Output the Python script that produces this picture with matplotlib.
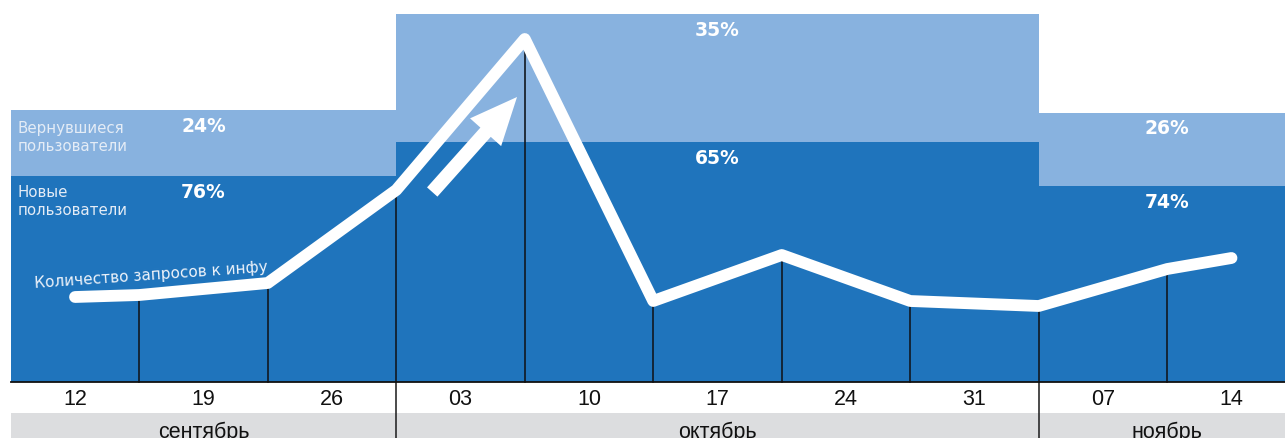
import matplotlib
matplotlib.use("Agg")
import matplotlib.pyplot as plt

# weeks on the x axis and months below them
weeks = ['12', '19', '26', '03', '10', '17', '24', '31', '07', '14']
months = ['сентябрь', 'октябрь', 'ноябрь']
month_start = [-0.5, 2.5, 7.5]
month_end = [2.5, 7.5, 9.5]

# users per month (arbitrary units) and share labels
new_users = [206, 240, 196]
returning_users = [66, 128, 73]
new_labels = ['76%', '65%', '74%']
returning_labels = ['24%', '35%', '26%']

# number of requests to the info page
query_pos = [0, 0.5, 1.5, 2.5, 3.5, 4.5, 5.5, 6.5, 7.5, 8.5, 9]
queries = [85, 87, 99, 192, 343, 81, 127, 81, 76, 113, 124]

DARK = '#1f74bc'
LIGHT = '#88b2df'
GRAY = '#dcdddf'

fig = plt.figure(figsize=(12.85, 4.39), dpi=100)
ax = fig.add_axes([0, 0, 1, 1])
ax.set_xlim(-75 / 128.5, 1210 / 128.5)
ax.set_ylim(-56, 383)
ax.axis('off')

# stacked monthly blocks
for i in range(len(months)):
    w = month_end[i] - month_start[i]
    ax.bar(month_start[i], new_users[i], width=w, align='edge', color=DARK, zorder=1)
    ax.bar(month_start[i], returning_users[i], width=w, bottom=new_users[i],
           align='edge', color=LIGHT, zorder=1)
    xc = (month_start[i] + month_end[i]) / 2
    if i == 0:
        xc = 1
    top = new_users[i] + returning_users[i]
    ax.text(xc, top - 15, returning_labels[i], ha='center', va='center',
            color='white', fontsize=13.5, fontweight='bold', family='DejaVu Sans', zorder=5)
    ax.text(xc, new_users[i] - 15, new_labels[i], ha='center', va='center',
            color='white', fontsize=13.5, fontweight='bold', family='DejaVu Sans', zorder=5)

# month band
ax.bar(month_start[0], -25, width=month_end[-1] - month_start[0], bottom=-31,
       align='edge', color=GRAY, zorder=1)
for i, m in enumerate(months):
    xc = (month_start[i] + month_end[i]) / 2
    ax.text(xc, -49, m, ha='center', va='center', fontsize=15.5,
            family='Liberation Sans', color='#111111', zorder=5)
for x in month_start[1:]:
    ax.plot([x, x], [-56, 0], color='#1a1a1a', lw=1.1, zorder=2)

# baseline and week labels
ax.plot([month_start[0], month_end[-1]], [0, 0], color='#111111', lw=1.3, zorder=3)
for i, w in enumerate(weeks):
    ax.text(i, -17, w, ha='center', va='center', fontsize=15.5,
            family='Liberation Sans', color='#111111', zorder=5)

# drop lines under the curve
for x, q in zip(query_pos[1:-1], queries[1:-1]):
    ax.plot([x, x], [0, q], color='#111820', lw=1.2, zorder=2)

ax.plot(query_pos, queries, color='white', lw=8.5, solid_capstyle='round',
        solid_joinstyle='round', zorder=4)

ax.annotate('', xy=(3.44, 285), xytext=(2.78, 190),
            arrowprops=dict(arrowstyle='simple,tail_width=1.0,head_width=3.0,head_length=3.4',
                            mutation_scale=10, color='white', shrinkA=0, shrinkB=0, lw=0),
            zorder=4)

# legend-like captions
ax.text(-0.444, 262, 'Вернувшиеся\nпользователи', ha='left', va='top', fontsize=10.8,
        color='#e4ecf6', family='DejaVu Sans', linespacing=1.25, zorder=5)
ax.text(-0.444, 198, 'Новые\nпользователи', ha='left', va='top', fontsize=10.8,
        color='#e4ecf6', family='DejaVu Sans', linespacing=1.25, zorder=5)
ax.text(-0.31, 95, 'Количество запросов к инфу', ha='left', va='baseline', fontsize=11,
        color='#eef3fa', family='DejaVu Sans', rotation=4, rotation_mode='anchor', zorder=5)

fig.savefig('out.png', dpi=100)
